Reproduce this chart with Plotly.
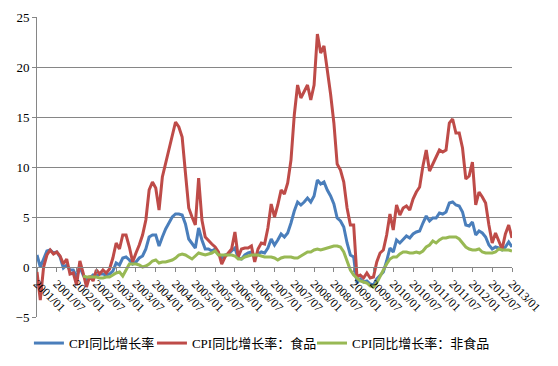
import plotly.graph_objects as go

# Months 2001/01 .. 2013/01
months = [f"{y}/{m:02d}" for y in range(2001, 2014) for m in range(1, 13)][:145]
tick_labels = months[::6]

cpi = [
    1.2, 0.0, 0.8, 1.6, 1.7, 1.4, 1.5, 1.0, -0.1, 0.2, -0.3, -0.3,
    -1.0, 0.0, -0.8, -1.3, -1.1, -0.8, -0.9, -0.7, -0.7, -0.8, -0.7, -0.4,
    0.4, 0.2, 0.9, 1.0, 0.7, 0.3, 0.5, 0.9, 1.1, 1.8, 3.0, 3.2,
    3.2, 2.1, 3.0, 3.8, 4.4, 5.0, 5.3, 5.3, 5.2, 4.3, 2.8, 2.4,
    1.9, 3.9, 2.7, 1.8, 1.8, 1.6, 1.8, 1.3, 0.9, 1.2, 1.3, 1.6,
    1.9, 0.9, 0.8, 1.2, 1.4, 1.5, 1.0, 1.3, 1.5, 1.4, 1.9, 2.8,
    2.2, 2.7, 3.3, 3.0, 3.4, 4.4, 5.6, 6.5, 6.2, 6.5, 6.9, 6.5,
    7.1, 8.7, 8.3, 8.5, 7.7, 7.1, 6.3, 4.9, 4.6, 4.0, 2.4, 1.2,
    1.0, -1.6, -1.2, -1.5, -1.4, -1.7, -1.8, -1.2, -0.8, -0.5, 0.6, 1.9,
    1.5, 2.7, 2.4, 2.8, 3.1, 2.9, 3.3, 3.5, 3.6, 4.4, 5.1, 4.6,
    4.9, 4.9, 5.4, 5.3, 5.5, 6.4, 6.5, 6.2, 6.1, 5.5, 4.2, 4.1,
    4.5, 3.2, 3.6, 3.4, 3.0, 2.2, 1.8, 2.0, 1.9, 1.7, 2.0, 2.5,
    2.0,
]

food = [
    -0.5, -3.3, 0.0, 1.2, 1.7, 1.3, 1.5, 1.1, 0.3, 0.8, -0.7, -0.6,
    -1.8, 0.6, -0.6, -2.0, -0.9, -1.4, -0.3, -0.7, -0.3, -0.6, -0.2, 0.9,
    2.4, 1.8, 3.2, 3.2, 2.0, 0.5, 1.4, 2.2, 3.2, 4.7, 7.7, 8.5,
    7.9, 5.7, 9.0, 10.4, 11.7, 13.4, 14.5, 14.0, 13.0, 9.4, 5.9, 5.0,
    4.2, 8.9, 4.7, 3.0, 2.6, 2.3, 2.0, 1.5, 0.3, 1.0, 1.4, 1.8,
    3.5, 1.0, 1.8, 1.9, 1.9, 2.1, 0.5, 1.8, 2.4, 2.3, 3.9, 6.3,
    5.0, 6.2, 7.7, 7.3, 8.4, 10.7, 15.2, 18.2, 16.9, 17.5, 18.2, 16.7,
    18.2, 23.3, 21.4, 22.1, 19.9, 17.3, 14.4, 10.3, 9.7, 8.5, 5.9, 4.2,
    4.2, -1.0, -0.8, -1.1, -0.6, -1.1, -1.0, 0.5, 1.4, 1.7, 3.2, 5.3,
    3.7, 6.2, 5.2, 5.9, 6.1, 5.7, 6.8, 7.5, 8.0, 10.1, 11.7, 9.6,
    10.3, 11.0, 11.7, 11.5, 11.7, 14.4, 14.8, 13.4, 13.4, 11.9, 8.8, 9.1,
    10.5, 6.2, 7.5, 7.0, 6.4, 4.2, 2.4, 3.4, 2.5, 1.8, 3.3, 4.2,
    2.9,
]

nonfood = [
    None, None, None, None, None, None, None, None, None, None, None, None,
    None, None, -0.9, -1.0, -1.0, -1.0, -1.0, -1.1, -1.1, -1.0, -1.0, -0.8,
    -0.6, -0.5, -0.9, -0.3, 0.3, 0.3, 0.3, 0.2, 0.0, 0.1, 0.3, 0.6,
    0.7, 0.4, 0.5, 0.5, 0.6, 0.7, 0.9, 1.2, 1.3, 1.2, 1.0, 0.8,
    1.1, 1.4, 1.3, 1.2, 1.3, 1.4, 1.6, 1.2, 1.2, 1.2, 1.2, 1.2,
    1.1, 0.8, 0.8, 1.0, 1.1, 1.2, 1.2, 1.2, 1.1, 1.0, 1.0, 1.0,
    0.9, 0.7, 0.9, 1.0, 1.0, 1.0, 0.9, 0.9, 1.1, 1.3, 1.5, 1.5,
    1.7, 1.8, 1.7, 1.8, 1.9, 2.0, 2.1, 2.1, 2.0, 1.5, 0.6, -0.3,
    -0.8, -1.1, -1.4, -1.5, -1.6, -1.9, -2.0, -1.6, -0.9, -0.3, 0.3, 0.8,
    1.0, 1.0, 1.3, 1.5, 1.5, 1.4, 1.4, 1.5, 1.4, 1.6, 2.0, 2.2,
    2.6, 2.4, 2.7, 2.9, 2.9, 3.0, 3.0, 3.0, 2.8, 2.4, 2.0, 1.8,
    1.7, 1.7, 1.8, 1.5, 1.4, 1.4, 1.4, 1.5, 1.8, 1.7, 1.7, 1.7,
    1.6,
]

series_names = ["CPI同比增长率", "CPI同比增长率：食品", "CPI同比增长率：非食品"]
series_colors = ["#4A7EBB", "#BE4B48", "#98B954"]
legend_ids = ["legend", "legend2", "legend3"]
legend_x = [-0.017, 0.242, 0.579]
# the last (top-most) series is drawn on the overlay axis that carries the labels at y = 0
xaxis_ids = ["x", "x", "x2"]

Y_MIN, Y_MAX = -5, 25
FONT = "Liberation Serif, Noto Sans CJK SC, serif"
GRID = "#868686"

fig = go.Figure()
for name, vals, col, lg, xa in zip(series_names, [cpi, food, nonfood],
                                   series_colors, legend_ids, xaxis_ids):
    fig.add_trace(go.Scatter(
        x=months, y=vals, mode="lines", name=name, legend=lg, xaxis=xa, yaxis="y",
        line=dict(color=col, width=3), connectgaps=False,
    ))

zero_frac = (0 - Y_MIN) / (Y_MAX - Y_MIN)

legend_common = dict(
    orientation="h", y=-0.087, yanchor="middle", xanchor="left",
    font=dict(size=13, family=FONT), itemwidth=30, bgcolor="rgba(0,0,0,0)",
)

# the page body adds an 8 px offset, so the figure is 8 px smaller than the window
fig.update_layout(
    template="none",
    width=550, height=358,
    margin=dict(l=29, r=46, t=9, b=49, autoexpand=False),
    paper_bgcolor="white", plot_bgcolor="white",
    font=dict(family=FONT, size=12, color="black"),
    showlegend=True,
    legend=dict(x=legend_x[0], **legend_common),
    legend2=dict(x=legend_x[1], **legend_common),
    legend3=dict(x=legend_x[2], **legend_common),
    xaxis=dict(
        type="category", range=[0, 144], automargin=False,
        showticklabels=False, ticks="", showgrid=False, showline=False,
        zeroline=False,
    ),
    xaxis2=dict(
        overlaying="x", anchor="free", position=zero_frac,
        type="category", range=[0, 144], automargin=False,
        tickmode="array", tickvals=tick_labels, ticktext=tick_labels,
        tickangle=45, showgrid=False, showline=True, linecolor=GRID,
        linewidth=1, ticks="outside", ticklen=4, tickcolor=GRID,
        zeroline=False, tickfont=dict(size=12, family=FONT),
    ),
    yaxis=dict(
        range=[Y_MIN, Y_MAX], tickmode="linear", tick0=Y_MIN, dtick=5,
        automargin=False,
        showgrid=True, gridcolor=GRID, gridwidth=1,
        showline=True, linecolor=GRID, linewidth=1,
        ticks="outside", ticklen=4, tickcolor=GRID,
        zeroline=False, tickfont=dict(size=13, family=FONT),
    ),
)

fig.write_html("out.html")
